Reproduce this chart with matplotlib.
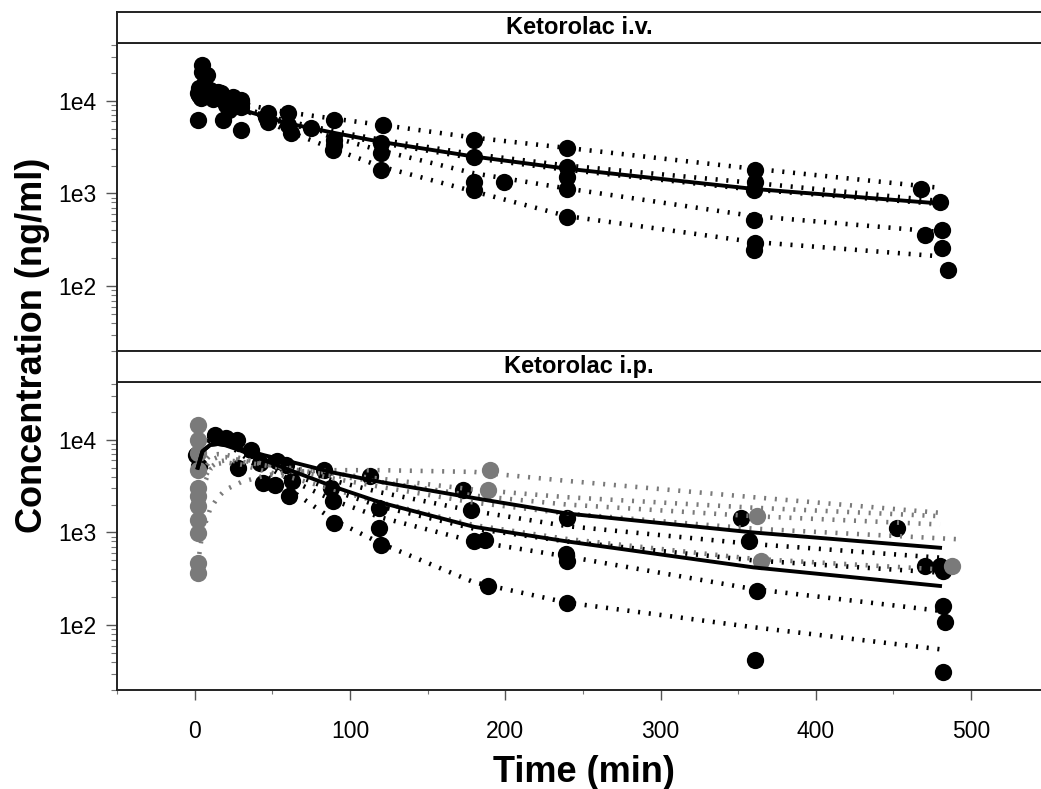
"""Ketorolac concentration-time profiles, i.v. and i.p. panels"""
import matplotlib.pyplot as plt
import numpy as np
from matplotlib.ticker import LogLocator, FuncFormatter, NullFormatter, MultipleLocator

plt.rcParams['font.family'] = ['Liberation Sans', 'DejaVu Sans']

# ---- i.v. panel data ----
iv_obs_t = [5, 5, 8, 2.5, 4, 2, 2, 3, 6, 10, 12, 15, 17, 18, 20, 22, 25, 30, 30, 30,
            30, 46, 47, 47, 60, 60, 62, 75, 90, 89, 90, 90, 121, 120, 120, 120, 180, 180, 180, 180,
            199, 240, 240, 240, 240, 240, 361, 361, 360, 360, 361, 360, 468, 480, 470, 481, 481, 485]
iv_obs_c = [24300, 20500, 18900, 13600, 10600, 6200, 12000, 11500, 15000, 13000,
            10500, 12500, 12000, 6200, 9000, 8000, 11000, 9800, 8500, 10200,
            4830, 6700, 7400, 5950, 7300, 5500, 4450, 5030, 6200, 2940,
            3770, 3300, 5500, 3480, 2700, 1780, 3770, 2490, 1340, 1100,
            1340, 3060, 1940, 1510, 1130, 560, 1790, 1340, 1100, 516,
            290, 246, 1130, 815, 356, 403, 257, 149]

iv_times = [2, 10, 20, 30, 45, 60, 90, 120, 180, 240, 360, 480]
iv_pop = [12000, 10000, 9000, 8000, 6800, 5700, 4500, 3600, 2500, 1850, 1120, 780]
iv_fit_a = [14000, 11500, 10200, 9300, 8300, 7500, 6400, 5500, 4000, 3100, 1850, 1150]
iv_fit_b = [13000, 10800, 9300, 8200, 7000, 6000, 4700, 3800, 2650, 2000, 1300, 830]
iv_fit_c = [16000, 12500, 10200, 8700, 7000, 5700, 4000, 2900, 1650, 1130, 570, 385]
iv_fit_d = [19000, 13500, 10300, 8300, 6200, 4700, 3000, 1950, 1050, 570, 300, 210]
iv_fit_e = [12500, 10200, 9000, 8000, 6700, 5600, 4400, 3500, 2400, 1800, 1100, 770]

# ---- i.p. panel data ----
ip_blk_t = [1, 3, 13, 20, 27, 28, 36, 42, 44, 52, 53, 59, 61, 63, 83, 88, 89, 90, 113, 119,
            119, 120, 173, 178, 180, 187, 189, 240, 239, 240, 240, 352, 357, 362, 361, 452, 470, 480,
            482, 482, 483, 482]
ip_blk_c = [6900, 5200, 11300, 10500, 10000, 4960, 7800, 5620, 3420, 3280,
            5850, 5380, 2450, 3560, 4760, 3020, 2170, 1270, 4030, 1840,
            1120, 740, 2900, 1770, 810, 840, 263, 1440, 580, 490,
            175, 1440, 810, 235, 42, 1120, 434, 434, 384, 162, 107, 31]
ip_gry_t = [2, 2, 2, 2, 2, 2, 2, 2, 2, 2, 2, 190, 189, 362, 365, 488]
ip_gry_c = [14500, 10000, 7200, 4760, 3020, 2450, 1920, 1380, 990, 472, 369,
            4700, 2850, 1500, 490, 440]

ip_times = [2, 5, 10, 15, 20, 30, 45, 60, 90, 120, 180, 240, 360, 480]
ip_times_long = [2, 5, 10, 15, 20, 30, 45, 60, 90, 120, 180, 240, 360, 495]
ip_pop_1 = [5000, 7500, 8800, 9000, 8800, 8000, 6800, 5900, 4400, 3500, 2350, 1600, 1000, 684]
ip_pop_2 = [5000, 7500, 8800, 9000, 8700, 7600, 6000, 4800, 3100, 2100, 1150, 800, 420, 265]
ip_blk_fit_1 = [6000, 8500, 10000, 10000, 9500, 8300, 6500, 5200, 3600, 2700, 1700, 1170, 750, 535]
ip_blk_fit_2 = [6500, 9000, 10500, 10300, 9700, 8000, 6000, 4500, 2800, 1900, 1100, 800, 500, 369]
ip_blk_fit_3 = [6500, 9000, 10500, 10000, 9300, 7500, 5300, 3800, 2200, 1450, 800, 550, 245, 143]
ip_blk_fit_4 = [6000, 8800, 10300, 10000, 9200, 7000, 4500, 3000, 1350, 760, 290, 175, 95, 55]
ip_gry_fit_1 = [450, 1000, 1800, 2400, 2900, 3500, 4100, 4500, 4700, 4700, 4500, 3600, 2400, 1630]
ip_gry_fit_2 = [2500, 4500, 6000, 6500, 6500, 6000, 5400, 5000, 4300, 3800, 2900, 2400, 1850, 1500]
ip_gry_fit_3 = [1500, 3500, 5000, 5800, 6000, 5800, 5300, 4900, 4100, 3500, 2500, 2000, 1500, 1220]
ip_gry_fit_4 = [3000, 5500, 6800, 7000, 6900, 6300, 5500, 4800, 3800, 3100, 2100, 1600, 1100, 840]
ip_gry_fit_5 = [1000, 3000, 4800, 5500, 5700, 5400, 4600, 4000, 2900, 2100, 1200, 850, 520, 400]

GREY = '#7a7a7a'
DOT = (0, (0.45, 1.9))
W, H = 1041, 789


def box(x0, y0, x1, y1):
    return [x0 / W, 1 - y1 / H, (x1 - x0) / W, (y1 - y0) / H]


def style_panel(ax, show_x):
    ax.set_yscale('log')
    ax.set_xlim(-50, 545)
    ax.set_ylim(20, 42000)
    ax.yaxis.set_major_locator(LogLocator(base=10, numticks=10))
    ax.yaxis.set_minor_locator(LogLocator(base=10, subs=np.arange(2, 10), numticks=20))
    ax.yaxis.set_major_formatter(FuncFormatter(lambda v, _: f'1e{int(round(np.log10(v)))}'))
    ax.yaxis.set_minor_formatter(NullFormatter())
    ax.tick_params(axis='y', which='major', length=8, width=1, color='#555555',
                   labelsize=16.5, pad=7)
    ax.tick_params(axis='y', which='minor', length=4.5, width=0.8, color='#777777')
    ax.xaxis.set_major_locator(MultipleLocator(100))
    ax.xaxis.set_minor_locator(MultipleLocator(50))
    if show_x:
        ax.tick_params(axis='x', which='major', length=7.5, width=1, color='#555555',
                       labelsize=16.5, pad=14)
        ax.tick_params(axis='x', which='minor', length=3, width=0.8, color='#777777')
    else:
        ax.tick_params(axis='x', which='both', length=0, labelbottom=False)
    for sp in ax.spines.values():
        sp.set_linewidth(1.4)
        sp.set_color('#222222')
    ax.spines['right'].set_visible(False)


def add_strip(rect, label):
    s = fig.add_axes(rect)
    s.set_xticks([])
    s.set_yticks([])
    for sp in s.spines.values():
        sp.set_linewidth(1.4)
        sp.set_color('#222222')
    s.spines['right'].set_visible(False)
    s.text(0.5, 0.5, label, ha='center', va='center', fontsize=17, fontweight='bold',
           transform=s.transAxes)


fig = plt.figure(figsize=(W / 100, H / 100), dpi=100)

ax_top = fig.add_axes(box(117, 43, 1041, 351))
ax_bot = fig.add_axes(box(117, 382, 1041, 690))
add_strip(box(117, 12, 1041, 43), 'Ketorolac i.v.')
add_strip(box(117, 351, 1041, 382), 'Ketorolac i.p.')

line_kw = dict(lw=3.3, linestyle=DOT, dash_capstyle='butt')

# i.v. panel
for fit in [iv_fit_a, iv_fit_b, iv_fit_c, iv_fit_d, iv_fit_e]:
    ax_top.plot(iv_times, fit, color='black', **line_kw)
ax_top.scatter(iv_obs_t, iv_obs_c, s=155, color='black', linewidths=0, zorder=3)
ax_top.plot(iv_times, iv_pop, color='black', lw=2.8, zorder=4)
style_panel(ax_top, show_x=False)

# i.p. panel
for fit in [ip_blk_fit_1, ip_blk_fit_2, ip_blk_fit_3, ip_blk_fit_4]:
    ax_bot.plot(ip_times, fit, color='black', zorder=2, **line_kw)
ax_bot.scatter(ip_blk_t, ip_blk_c, s=155, color='black', linewidths=0, zorder=3)
for fit in [ip_gry_fit_1, ip_gry_fit_2, ip_gry_fit_3, ip_gry_fit_5]:
    ax_bot.plot(ip_times, fit, color=GREY, zorder=4, **line_kw)
ax_bot.plot(ip_times_long, ip_gry_fit_4, color=GREY, zorder=4, **line_kw)
ax_bot.scatter(ip_gry_t, ip_gry_c, s=155, color=GREY, linewidths=0, zorder=5)
ax_bot.plot(ip_times, ip_pop_1, color='black', lw=2.8, zorder=6)
ax_bot.plot(ip_times, ip_pop_2, color='black', lw=2.8, zorder=6)
style_panel(ax_bot, show_x=True)

fig.text(584 / W, 1 - 772 / H, 'Time (min)', ha='center', va='center',
         fontsize=26, fontweight='bold')
fig.text(33 / W, 1 - 345 / H, 'Concentration (ng/ml)', ha='center', va='center',
         rotation=90, fontsize=26, fontweight='bold')

fig.savefig('out.png', dpi=100)
